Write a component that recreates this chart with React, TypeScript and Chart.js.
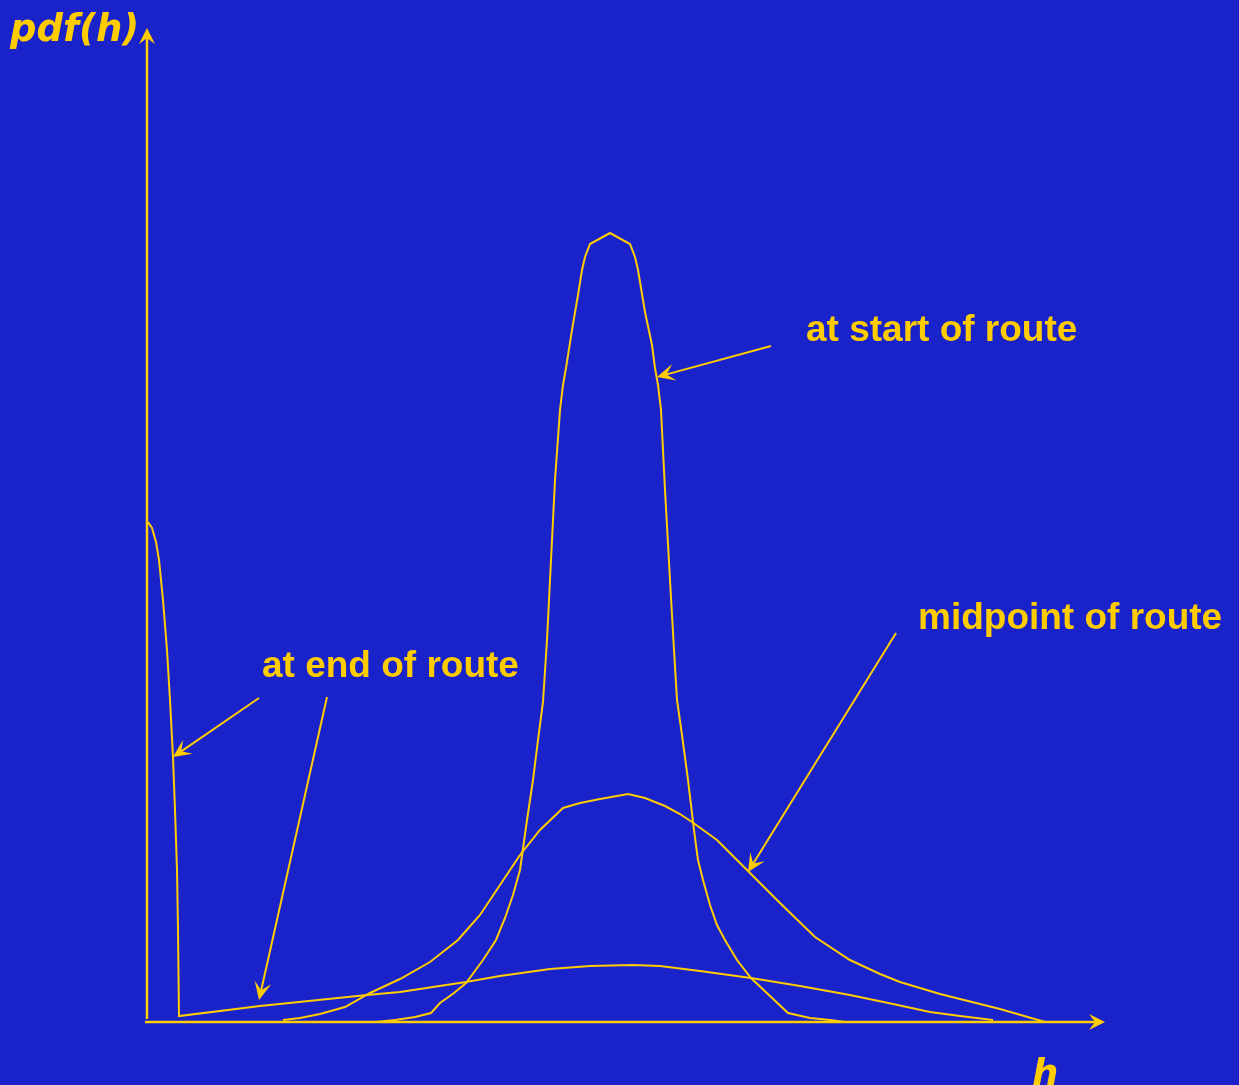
import React, { useEffect, useRef } from "react";
import { Chart, registerables } from "chart.js";

Chart.register(...registerables);

// ---- data (h in arbitrary units, pdf in arbitrary units) ----
const startH = [22.9, 24.8, 26.8, 28.4, 29.3, 30.7, 31.9, 33.6, 34.9, 35.8, 36.6, 37.3, 38.0, 38.6, 39.1, 39.6, 40.0, 40.4, 40.8, 41.3, 41.6, 41.9, 42.5, 43.1, 43.5, 43.8, 44.3, 46.3, 48.3, 48.8, 49.1, 49.8, 50.5, 50.8, 51.1, 51.4, 51.8, 52.3, 52.7, 53.0, 53.5, 54.1, 54.7, 55.1, 55.6, 56.3, 57.0, 57.8, 59.0, 60.4, 62.3, 64.1, 66.3, 68.3, 69.8];
const startPdf = [0, 0.2, 0.5, 0.9, 1.9, 2.9, 3.9, 6.2, 8.2, 10.4, 12.7, 15.2, 20.2, 24.2, 28.2, 32.0, 38.2, 46.2, 54.2, 61.2, 63.7, 65.4, 69.2, 72.7, 75.2, 76.5, 77.8, 78.9, 77.8, 76.5, 75.2, 71.0, 67.7, 65.4, 63.7, 61.2, 53.2, 44.2, 37.2, 32.2, 28.7, 24.2, 19.2, 16.2, 14.2, 11.7, 9.7, 8.2, 6.2, 4.4, 2.6, 0.9, 0.4, 0.2, 0];

const midH = [13.6, 15.3, 17.3, 19.8, 22.3, 25.3, 28.3, 31.1, 33.3, 35.3, 37.3, 39.3, 41.6, 43.3, 45.3, 48.1, 49.8, 51.8, 53.3, 54.5, 57.0, 59.8, 63.3, 66.8, 70.3, 73.3, 75.3, 79.3, 85.3, 89.8];
const midPdf = [0.2, 0.4, 0.8, 1.5, 2.9, 4.3, 6.0, 8.2, 10.7, 13.7, 16.7, 19.2, 21.4, 21.9, 22.3, 22.8, 22.4, 21.6, 20.8, 20.0, 18.2, 15.4, 11.9, 8.5, 6.2, 4.8, 4.0, 2.8, 1.3, 0];

const endH = [0.1, 0.5, 0.9, 1.2, 1.6, 2.0, 2.3, 2.6, 2.8, 3.0, 3.1, 3.2, 11.3, 22.0, 25.3, 31.9, 35.3, 40.3, 44.3, 48.6, 51.3, 55.3, 60.4, 65.3, 70.3, 74.6, 78.3, 81.3, 84.6];
const endPdf = [50.0, 49.4, 48.0, 46.2, 42.2, 37.2, 32.2, 26.5, 21.2, 15.2, 9.2, 0.6, 1.6, 2.7, 3.0, 4.0, 4.6, 5.3, 5.6, 5.7, 5.6, 5.1, 4.4, 3.6, 2.7, 1.8, 1.0, 0.6, 0.2];

// annotation labels (text, anchor h, anchor pdf)
const labelTexts = ["at start of route", "midpoint of route", "at end of route"];
const labelH = [65.9, 77.1, 11.5];
const labelPdf = [68.1, 39.3, 34.5];

// annotation arrows: from (h, pdf) to (h, pdf)
const arrowFromH = [62.4, 74.9, 11.2, 18.0];
const arrowFromPdf = [67.6, 38.9, 32.4, 32.5];
const arrowToH = [51.0, 60.1, 2.6, 11.2];
const arrowToPdf = [64.5, 15.0, 26.5, 2.2];

const yTitle = "pdf(h)";
const xTitle = "h";

const BG = "#1A23C9";
const YEL = "#FFCC00";

const zip = (xs: number[], ys: number[]) => xs.map((x, i) => ({ x, y: ys[i] }));

function arrowHead(ctx: CanvasRenderingContext2D, x1: number, y1: number, x2: number, y2: number, L: number, W: number, N: number) {
  const dx = x2 - x1, dy = y2 - y1;
  const len = Math.hypot(dx, dy);
  const ux = dx / len, uy = dy / len;
  const nx = -uy, ny = ux;
  ctx.beginPath();
  ctx.moveTo(x2, y2);
  ctx.lineTo(x2 - ux * L + nx * W, y2 - uy * L + ny * W);
  ctx.lineTo(x2 - ux * N, y2 - uy * N);
  ctx.lineTo(x2 - ux * L - nx * W, y2 - uy * L - ny * W);
  ctx.closePath();
  ctx.fill();
}

function arrow(ctx: CanvasRenderingContext2D, x1: number, y1: number, x2: number, y2: number, lw: number, L: number, W: number, N: number) {
  const dx = x2 - x1, dy = y2 - y1;
  const len = Math.hypot(dx, dy);
  const ux = dx / len, uy = dy / len;
  ctx.lineWidth = lw;
  ctx.beginPath();
  ctx.moveTo(x1, y1);
  ctx.lineTo(x2 - ux * N, y2 - uy * N);
  ctx.stroke();
  arrowHead(ctx, x1, y1, x2, y2, L, W, N);
}

const decorPlugin = {
  id: "decor",
  beforeDraw(chart: any) {
    const ctx = chart.ctx as CanvasRenderingContext2D;
    ctx.save();
    ctx.fillStyle = BG;
    ctx.fillRect(0, 0, chart.width, chart.height);
    const { left, right, top, bottom } = chart.chartArea;
    ctx.strokeStyle = YEL;
    ctx.fillStyle = YEL;
    ctx.lineCap = "butt";
    // y axis
    arrow(ctx, left, bottom - 3, left, top, 2.5, 16, 8, 10);
    // x axis
    arrow(ctx, left - 2, bottom, right, bottom, 2.5, 16, 8, 10);
    ctx.restore();
  },
  afterDraw(chart: any) {
    const ctx = chart.ctx as CanvasRenderingContext2D;
    const xs = chart.scales.x, ys = chart.scales.y;
    ctx.save();
    ctx.strokeStyle = YEL;
    ctx.fillStyle = YEL;
    for (let i = 0; i < arrowFromH.length; i++) {
      arrow(
        ctx,
        xs.getPixelForValue(arrowFromH[i]), ys.getPixelForValue(arrowFromPdf[i]),
        xs.getPixelForValue(arrowToH[i]), ys.getPixelForValue(arrowToPdf[i]),
        2, 18, 8.5, 10
      );
    }
    ctx.font = 'bold 37px "Liberation Sans", Arial, sans-serif';
    ctx.textAlign = "left";
    ctx.textBaseline = "alphabetic";
    for (let i = 0; i < labelTexts.length; i++) {
      ctx.fillText(labelTexts[i], xs.getPixelForValue(labelH[i]), ys.getPixelForValue(labelPdf[i]));
    }
    ctx.font = 'italic bold 37px "DejaVu Sans", sans-serif';
    const { left, right, top, bottom } = chart.chartArea;
    ctx.fillText(yTitle, left - 137, top + 13);
    ctx.fillText(xTitle, right - 73, bottom + 64);
    ctx.restore();
  },
};

export default function App() {
  const ref = useRef<HTMLCanvasElement>(null);
  useEffect(() => {
    if (!ref.current) return;
    const ds = (xs: number[], ys: number[]) => ({
      data: zip(xs, ys),
      borderColor: YEL,
      borderWidth: 2,
      pointRadius: 0,
      tension: 0,
      fill: false,
    });
    const chart = new Chart(ref.current, {
      type: "line",
      data: {
        datasets: [ds(startH, startPdf), ds(midH, midPdf), ds(endH, endPdf)],
      },
      options: {
        animation: false,
        responsive: false,
        layout: { padding: { left: 147, right: 134, top: 28, bottom: 63 } },
        plugins: { legend: { display: false }, tooltip: { enabled: false } },
        scales: {
          x: { type: "linear", min: 0, max: 95.8, display: false },
          y: { type: "linear", min: 0, max: 99.4, display: false },
        },
      },
      plugins: [decorPlugin],
    });
    return () => chart.destroy();
  }, []);
  return (
    <div style={{ position: "absolute", left: 0, top: 0, width: 1239, height: 1085, overflow: "hidden" }}>
      <canvas ref={ref} width={1239} height={1085} style={{ display: "block" }} />
    </div>
  );
}
